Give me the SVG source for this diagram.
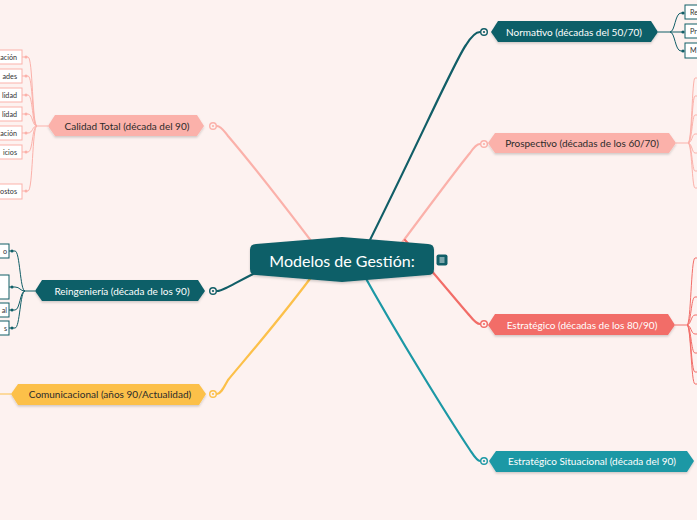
<svg xmlns="http://www.w3.org/2000/svg" width="697" height="520" viewBox="0 0 697 520">
<defs>
<filter id="sh" x="-10%" y="-30%" width="120%" height="170%">
<feDropShadow dx="0" dy="1.5" stdDeviation="1.2" flood-color="#000" flood-opacity="0.18"/>
</filter>
<style>
text{font-family:Lato,"Noto Sans",sans-serif}
.main{stroke-width:2.2;fill:none;stroke-linecap:round}
.sub{stroke-width:1;fill:none}
.t{font-size:10px;text-anchor:middle;dominant-baseline:central}
.w{fill:#ffffff}
.d{fill:#2b2b2b}
.cb{font-size:7.2px;dominant-baseline:central;fill:#333}
.box{fill:#ffffff;stroke-width:1}
.ring{fill:#fdf2f0;stroke-width:1.4}
</style>
</defs>
<rect width="697" height="520" fill="#fdf2f0"/>

<g id="connectors">
<path class="main" stroke="#115e67" d="M364 252 C420 140 455 60 466 45 C471 37 475 32 480 32"/>
<path class="main" stroke="#fbb1aa" d="M395 252 C430 205 460 165 470 153 C474 147 477 144 480 144"/>
<path class="main" stroke="#f26d68" d="M405 240 C440 280 460 305 470 316 C474 321 477 324 480 324"/>
<path class="main" stroke="#1c98a5" d="M360 268 C400 340 450 420 470 450 C474 456 477 461 480 461"/>
<path class="main" stroke="#fbb1aa" d="M318 250 C280 200 240 150 228 136 C224 131 221 126 217 126"/>
<path class="main" stroke="#115e67" d="M265 268 C245 278 232 285 226 288 C222 290 220 291 217 291"/>
<path class="main" stroke="#fcc04a" d="M318 268 C280 320 240 365 228 380 C224 387 221 394 217 394"/>

<circle class="ring" stroke="#115e67" cx="484" cy="32" r="3.3"/><circle fill="#115e67" cx="484" cy="32" r="1.1"/>
<circle class="ring" stroke="#fbb1aa" cx="484" cy="144" r="3.3"/><circle fill="#fbb1aa" cx="484" cy="144" r="1.1"/>
<circle class="ring" stroke="#f26d68" cx="484" cy="324" r="3.3"/><circle fill="#f26d68" cx="484" cy="324" r="1.1"/>
<circle class="ring" stroke="#1c98a5" cx="484" cy="461" r="3.3"/><circle fill="#1c98a5" cx="484" cy="461" r="1.1"/>
<circle class="ring" stroke="#fbb1aa" cx="213" cy="126" r="3.3"/><circle fill="#fbb1aa" cx="213" cy="126" r="1.1"/>
<circle class="ring" stroke="#115e67" cx="213" cy="291" r="3.3"/><circle fill="#115e67" cx="213" cy="291" r="1.1"/>
<circle class="ring" stroke="#fcc04a" cx="213" cy="394" r="3.3"/><circle fill="#fcc04a" cx="213" cy="394" r="1.1"/>

<g stroke="#115e67" class="sub">
<path d="M658 32 L670 32"/>
<path d="M670 32 C675 32 675 13 681 13 L684 13"/>
<path d="M670 32 L684 32"/>
<path d="M670 32 C675 32 675 51 681 51 L684 51"/>
</g>
<g fill="#115e67"><circle cx="683" cy="13" r="1.6"/><circle cx="683" cy="32" r="1.6"/><circle cx="683" cy="51" r="1.6"/></g>

<g stroke="#fbb1aa" class="sub">
<path d="M676 143 L688 143"/>
<path d="M688 143 C692 143 692 78 695 78 L697 78"/>
<path d="M688 143 C692 143 692 96 695 96 L697 96"/>
<path d="M688 143 C692 143 692 115 695 115 L697 115"/>
<path d="M688 143 C692 143 692 134 695 134 L697 134"/>
<path d="M688 143 C692 143 692 153 695 153 L697 153"/>
<path d="M688 143 C692 143 692 171 695 171 L697 171"/>
<path d="M688 143 C692 143 692 188 695 188 L697 188"/>
</g>

<g stroke="#f26d68" class="sub">
<path d="M675 325 L687 325"/>
<path d="M687 325 C691 325 691 258 695 258 L697 258"/>
<path d="M687 325 C691 325 691 297 695 297 L697 297"/>
<path d="M687 325 C691 325 691 315 695 315 L697 315"/>
<path d="M687 325 C691 325 691 334 695 334 L697 334"/>
<path d="M687 325 C691 325 691 353 695 353 L697 353"/>
<path d="M687 325 C691 325 691 372 695 372 L697 372"/>
<path d="M687 325 C691 325 691 384 695 384 L697 384"/>
</g>

<g stroke="#fbb1aa" class="sub">
<path d="M48 126 L37 126"/>
<path d="M37 126 C32 126 33 57 28 57 L26 57"/>
<path d="M37 126 C32 126 33 76 28 76 L26 76"/>
<path d="M37 126 C32 126 33 95 28 95 L26 95"/>
<path d="M37 126 C32 126 33 114 28 114 L26 114"/>
<path d="M37 126 C32 126 33 133 28 133 L26 133"/>
<path d="M37 126 C32 126 33 152 28 152 L26 152"/>
<path d="M37 126 C32 126 33 191 28 191 L26 191"/>
<path d="M26 57 L22 57 M26 76 L22 76 M26 95 L22 95 M26 114 L22 114 M26 133 L22 133 M26 152 L22 152 M26 191 L22 191"/>
</g>
<g fill="#fbb1aa"><circle cx="26" cy="57" r="1.5"/><circle cx="26" cy="76" r="1.5"/><circle cx="26" cy="95" r="1.5"/><circle cx="26" cy="114" r="1.5"/><circle cx="26" cy="133" r="1.5"/><circle cx="26" cy="152" r="1.5"/><circle cx="26" cy="191" r="1.5"/></g>

<g stroke="#115e67" class="sub">
<path d="M35 291 L25 291"/>
<path d="M25 291 C20 291 20 251 15 251 L9 251"/>
<path d="M25 291 C20 291 20 287 15 287 L9 287"/>
<path d="M25 291 C20 291 20 310 15 310 L9 310"/>
<path d="M25 291 C20 291 20 328 15 328 L9 328"/>
</g>
<g fill="#115e67"><circle cx="12" cy="251" r="1.5"/><circle cx="12" cy="287" r="1.5"/><circle cx="12" cy="310" r="1.5"/><circle cx="12" cy="328" r="1.5"/></g>

<path stroke="#fcc04a" class="sub" stroke-width="1.4" d="M11 394 L0 394"/>
</g>

<g id="center">
<path filter="url(#sh)" fill="#115e67" d="M256 244 L342 237 L428 244 Q434 244 434 250 L434 269 Q434 275 428 275 L342 282 L256 275 Q250 275 250 269 L250 250 Q250 244 256 244 Z"/>
<text x="342" y="260" font-size="16" text-anchor="middle" dominant-baseline="central" fill="#ffffff">Modelos de Gestión:</text>
<rect x="436.5" y="254.5" width="11" height="11" rx="2" fill="#115e67"/>
<path d="M439.5 258 H444.5 M439.5 260 H444.5 M439.5 262 H444.5" stroke="#ffffff" stroke-width="0.9"/>
</g>

<g id="normativo">
<path filter="url(#sh)" fill="#115e67" d="M491 32 L498 21 L651 21 L658 32 L651 42 L498 42 Z"/>
<text class="t w" x="574" y="32">Normativo (décadas del 50/70)</text>
</g>
<g id="normativo-1"><rect class="box" stroke="#115e67" x="685" y="5" width="20" height="14"/><text class="cb" x="690" y="12">Re</text></g>
<g id="normativo-2"><rect class="box" stroke="#115e67" x="685" y="24" width="20" height="14"/><text class="cb" x="690" y="31">Pr</text></g>
<g id="normativo-3"><rect class="box" stroke="#115e67" x="685" y="43" width="20" height="15"/><text class="cb" x="690" y="50.5">M</text></g>

<g id="prospectivo">
<path filter="url(#sh)" fill="#fbb1aa" d="M488 143 L495 133 L669 133 L676 143 L669 153 L495 153 Z"/>
<text class="t d" x="582" y="143">Prospectivo (décadas de los 60/70)</text>
</g>

<g id="estrategico">
<path filter="url(#sh)" fill="#f26d68" d="M488 325 L495 314 L668 314 L675 325 L668 335 L495 335 Z"/>
<text class="t w" x="582" y="325">Estratégico (décadas de los 80/90)</text>
</g>

<g id="estrategico-situacional">
<path filter="url(#sh)" fill="#1c98a5" d="M489 461 L496 451 L687 451 L694 461 L687 472 L496 472 Z"/>
<text class="t w" x="592" y="461">Estratégico Situacional (década del 90)</text>
</g>

<g id="calidad-total">
<path filter="url(#sh)" fill="#fbb1aa" d="M48 126 L55 115 L197 115 L204 126 L197 136 L55 136 Z"/>
<text class="t d" x="127" y="126">Calidad Total (década del 90)</text>
</g>
<g id="ct-1"><rect class="box" stroke="#fbb1aa" x="-10" y="50" width="32" height="14"/><text class="cb" x="17" y="57" text-anchor="end">ación</text></g>
<g id="ct-2"><rect class="box" stroke="#fbb1aa" x="-10" y="69" width="32" height="14"/><text class="cb" x="17" y="76" text-anchor="end">ades</text></g>
<g id="ct-3"><rect class="box" stroke="#fbb1aa" x="-10" y="88" width="32" height="14"/><text class="cb" x="17" y="95" text-anchor="end">lidad</text></g>
<g id="ct-4"><rect class="box" stroke="#fbb1aa" x="-10" y="107" width="32" height="14"/><text class="cb" x="17" y="114" text-anchor="end">lidad</text></g>
<g id="ct-5"><rect class="box" stroke="#fbb1aa" x="-10" y="126" width="32" height="14"/><text class="cb" x="17" y="133" text-anchor="end">ación</text></g>
<g id="ct-6"><rect class="box" stroke="#fbb1aa" x="-10" y="145" width="32" height="14"/><text class="cb" x="17" y="152" text-anchor="end">icios</text></g>
<g id="ct-7"><rect class="box" stroke="#fbb1aa" x="-10" y="184" width="32" height="15"/><text class="cb" x="17" y="191.5" text-anchor="end">ostos</text></g>

<g id="reingenieria">
<path filter="url(#sh)" fill="#115e67" d="M35 291 L42 280 L198 280 L205 291 L198 301 L42 301 Z"/>
<text class="t w" x="122" y="291">Reingeniería (década de los 90)</text>
</g>
<g id="re-1"><rect class="box" stroke="#115e67" x="-10" y="244" width="19" height="14"/><text class="cb" x="7" y="251" text-anchor="end">o</text></g>
<g id="re-2"><rect class="box" stroke="#115e67" x="-10" y="275" width="19" height="24"/></g>
<g id="re-3"><rect class="box" stroke="#115e67" x="-10" y="303" width="19" height="14"/><text class="cb" x="7" y="310" text-anchor="end">al</text></g>
<g id="re-4"><rect class="box" stroke="#115e67" x="-10" y="321" width="19" height="14"/><text class="cb" x="7" y="328" text-anchor="end">s</text></g>

<g id="comunicacional">
<path filter="url(#sh)" fill="#fcc04a" d="M11 394 L18 384 L199 384 L206 394 L199 405 L18 405 Z"/>
<text class="t d" x="110" y="394">Comunicacional (años 90/Actualidad)</text>
</g>
</svg>
